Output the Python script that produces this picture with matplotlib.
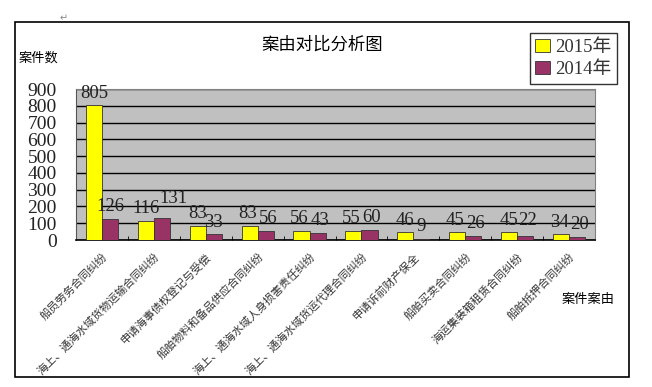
import matplotlib.pyplot as plt
from matplotlib.patches import Rectangle
import numpy as np

# Data
categories = ['船员劳务合同纠纷', '海上、通海水域货物运输合同纠纷', '申请海事债权登记与受偿',
              '船舶物料和备品供应合同纠纷', '海上、通海水域人身损害责任纠纷',
              '海上、通海水域货运代理合同纠纷', '申请诉前财产保全', '船舶买卖合同纠纷',
              '海运集装箱租赁合同纠纷', '船舶抵押合同纠纷']
cases_2015 = [805, 116, 83, 83, 56, 55, 46, 45, 45, 34]
cases_2014 = [126, 131, 33, 56, 43, 60, 9, 26, 22, 20]
yticks = list(range(0, 1000, 100))

cjk = ['Noto Sans CJK SC', 'DejaVu Sans']
num = ['Liberation Serif', 'Noto Sans CJK SC']

fig = plt.figure(figsize=(6.52, 3.87), dpi=100)
ax = fig.add_axes([0.1166, 0.3798, 0.796, 0.390])

x = np.arange(len(categories))
w = 0.31
b1 = ax.bar(x - w / 2, cases_2015, w, color='#FFFF00', edgecolor='#333333', linewidth=0.6,
            label='2015年', zorder=3)
b2 = ax.bar(x + w / 2, cases_2014, w, color='#993366', edgecolor='#333333', linewidth=0.6,
            label='2014年', zorder=3)

# label nudges (series, index) -> (dx in categories, dy in values), to avoid overlaps
nudge = {(1, 1): (0.23, 42), (1, 8): (0.04, 20)}
for i in (3, 4, 5, 7, 9):
    nudge[(0, i)] = (-0.04, 0)
    nudge[(1, i)] = (0.04, 0)
for si, bars in enumerate((b1, b2)):
    for i, rect in enumerate(bars):
        h = rect.get_height()
        dx, dy = nudge.get((si, i), (0, 0))
        ax.text(rect.get_x() + rect.get_width() / 2 + dx, min(h, 800) + 22 + dy, str(h),
                ha='center', va='bottom', fontsize=13.5, family=num, color='#222222')

ax.set_xlim(-0.5, len(categories) - 0.5)
ax.set_ylim(0, 900)
ax.set_yticks(yticks)
ax.set_yticklabels([str(v) for v in yticks], family=num, fontsize=14, color='#222222')
ax.set_facecolor('#C0C0C0')
ax.yaxis.grid(True, color='black', linewidth=1.0, zorder=1)
ax.set_axisbelow(True)
for s in ('top', 'right'):
    ax.spines[s].set_color('#808080')
ax.spines['left'].set_color('#555555')
ax.spines['bottom'].set_color('black')
ax.spines['bottom'].set_linewidth(1.2)
ax.tick_params(axis='y', length=0, pad=14)

ax.set_xticks(x)
ax.set_xticklabels(categories, rotation=45, ha='right', va='top', rotation_mode='anchor',
                   family=cjk, fontsize=8, color='#333333')
ax.tick_params(axis='x', length=0, pad=8)
ax.set_xticks(np.arange(0.5, len(categories) - 0.5, 1), minor=True)
ax.tick_params(axis='x', which='minor', direction='in', length=3, color='black')

fig.text(0.494, 0.884, '案由对比分析图', ha='center', va='center', fontsize=12.5, family=cjk)
fig.text(0.028, 0.85, '案件数', ha='left', va='center', fontsize=9.5, family=cjk)
fig.text(0.862, 0.225, '案件案由', ha='left', va='center', fontsize=9.5, family=cjk)
fig.text(0.092, 0.952, '↵', ha='left', va='center', fontsize=7, color='#888888')

leg = fig.legend(handles=[b1, b2], loc='upper right', bbox_to_anchor=(617 / 652, 1 - 33 / 387),
                 prop={'family': num, 'size': 13.5}, frameon=True, fancybox=False,
                 edgecolor='black', handlelength=0.75, handleheight=0.75, handletextpad=0.3,
                 borderpad=0.3, labelspacing=0.25, borderaxespad=0)
leg.get_frame().set_linewidth(1.0)
for t in leg.get_texts():
    t.set_color('#333333')

fig.patches.append(Rectangle((15 / 652, 1 - 377 / 387), 614 / 652, 355 / 387,
                             transform=fig.transFigure, fill=False, edgecolor='black',
                             linewidth=1.2))

fig.savefig('out.png', dpi=100)
